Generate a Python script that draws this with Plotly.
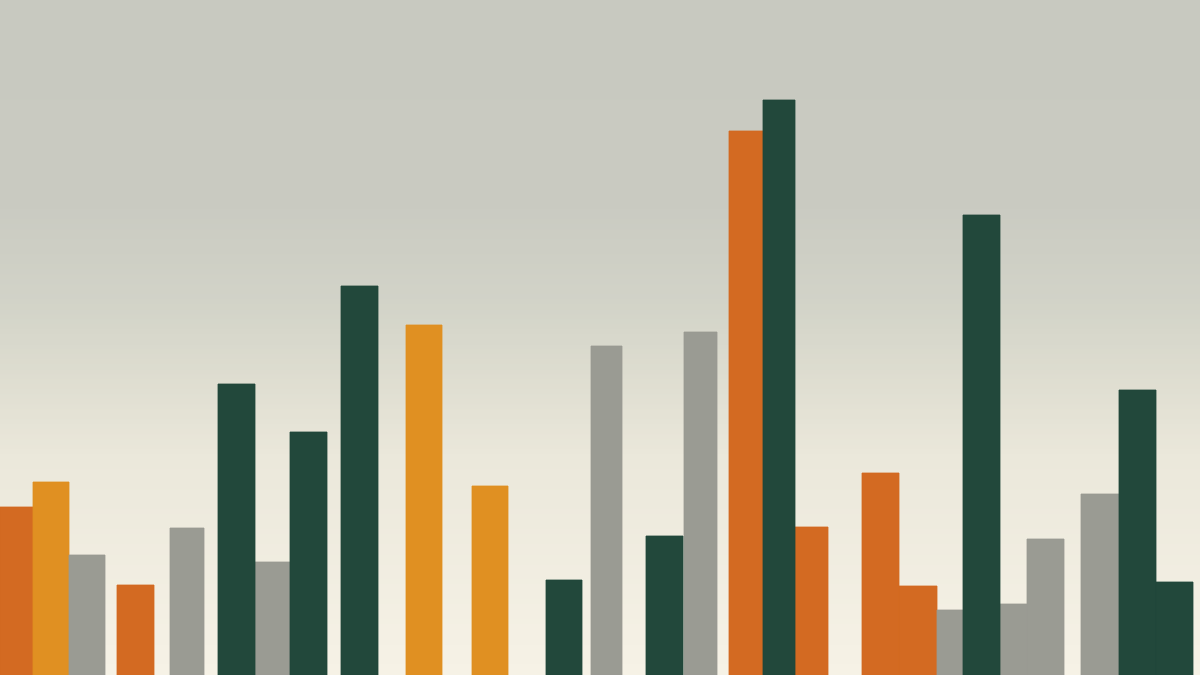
import plotly.graph_objects as go

# bar data: left edge, right edge, height, group
left = [0, 33, 69, 117, 170, 218, 255, 290, 341, 406, 472, 546, 591, 646,
        684, 729, 763, 795, 862, 899, 937, 963, 1000, 1027, 1081, 1119, 1156]
right = [33, 69, 105, 154, 204, 255, 290, 327, 378, 442, 508, 582, 622, 683,
         717, 763, 795, 828, 899, 937, 963, 1000, 1027, 1064, 1119, 1156, 1193]
heights = [168, 193, 120, 90, 147, 291, 113, 243, 389, 350, 189, 95, 329, 139,
           343, 544, 575, 148, 202, 89, 65, 460, 71, 136, 181, 285, 93]
groups = ["rust", "amber", "stone", "rust", "stone", "pine", "stone", "pine", "pine",
          "amber", "amber", "pine", "stone", "pine", "stone", "rust", "pine", "rust",
          "rust", "rust", "stone", "pine", "stone", "stone", "stone", "pine", "pine"]

colors = {"rust": "#D36A22", "amber": "#E09022", "stone": "#9A9B93", "pine": "#22483B"}

# background gradient stops (fraction from top, colour)
grad = [(0.0, (200, 201, 192)), (0.30, (201, 202, 193)), (0.45, (210, 211, 200)),
        (0.55, (221, 220, 207)), (0.68, (235, 232, 219)), (1.0, (246, 242, 230))]


def grad_color(t):
    for (t0, c0), (t1, c1) in zip(grad, grad[1:]):
        if t <= t1:
            f = (t - t0) / (t1 - t0)
            return "rgb(%d,%d,%d)" % tuple(round(a + (b - a) * f) for a, b in zip(c0, c1))
    return "rgb(%d,%d,%d)" % grad[-1][1]


fig = go.Figure()

for g, col in colors.items():
    idx = [i for i, v in enumerate(groups) if v == g]
    fig.add_trace(go.Bar(
        x=[(left[i] + right[i]) / 2 for i in idx],
        y=[heights[i] for i in idx],
        width=[right[i] - left[i] for i in idx],
        marker=dict(color=col, line=dict(width=0.8, color=col)),
        name=g, hoverinfo="skip",
    ))

bands = 135
shapes = []
for k in range(bands):
    shapes.append(dict(type="rect", xref="paper", yref="paper", layer="below",
                       x0=0, x1=1, y0=1 - (k + 1) / bands, y1=1 - k / bands + 0.001,
                       fillcolor=grad_color((k + 0.5) / bands), line=dict(width=0)))

fig.update_layout(
    width=1200, height=675,
    margin=dict(l=0, r=0, t=0, b=0),
    paper_bgcolor="rgb(246,242,230)",
    plot_bgcolor="rgba(0,0,0,0)",
    showlegend=False,
    barmode="overlay",
    shapes=shapes,
    xaxis=dict(range=[0, 1200], visible=False, fixedrange=True),
    yaxis=dict(range=[0, 675], visible=False, fixedrange=True),
)

fig.write_html("out.html", config={"displayModeBar": False},
               post_script="document.body.style.margin='0';document.body.style.overflow='hidden';")
